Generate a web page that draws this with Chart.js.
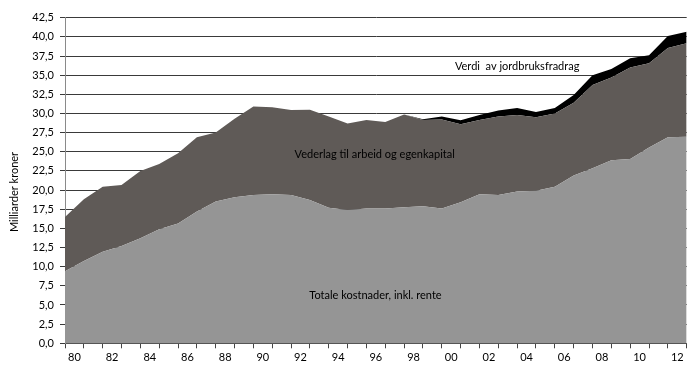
<!DOCTYPE html>
<html>
<head>
<meta charset="utf-8">
<script src="https://cdn.jsdelivr.net/npm/chart.js@4/dist/chart.umd.min.js"></script>
<style>
  html, body { margin: 0; padding: 0; background: #fff; }
  #wrap { width: 700px; height: 380px; position: relative; }
</style>
</head>
<body>
<div id="wrap"><canvas id="c" width="700" height="380"></canvas></div>
<script>
// Categories (years, points on the tick marks)
const years = ['1980','1981','1982','1983','1984','1985','1986','1987','1988','1989',
               '1990','1991','1992','1993','1994','1995','1996','1997','1998','1999',
               '2000','2001','2002','2003','2004','2005','2006','2007','2008','2009',
               '2010','2011','2012','2013'];
// Tick labels shown (every second year)
const tickLabels = ['80','82','84','86','88','90','92','94','96','98','00','02','04','06','08','10','12'];

// Series values (milliarder kroner, stacked)
const totaleKostnader = [9.4, 10.75, 11.95, 12.7, 13.7, 14.9, 15.65, 17.2, 18.5, 19.05,
                         19.35, 19.45, 19.35, 18.7, 17.7, 17.4, 17.6, 17.6, 17.75, 17.9,
                         17.6, 18.4, 19.45, 19.35, 19.8, 19.9, 20.45, 21.9, 22.85, 23.9,
                         24.05, 25.55, 26.9, 26.95];
const vederlag = [7.1, 8.05, 8.5, 7.95, 8.8, 8.5, 9.15, 9.7, 9.0, 10.25,
                  11.55, 11.35, 11.1, 11.8, 11.9, 11.3, 11.55, 11.3, 12.1, 11.25,
                  11.6, 10.2, 9.7, 10.25, 10.0, 9.6, 9.55, 9.5, 10.85, 10.8,
                  11.95, 11.0, 11.65, 12.2];
const jordbruksfradrag = [0, 0, 0, 0, 0, 0, 0, 0, 0, 0,
                          0, 0, 0, 0, 0, 0, 0, 0, 0, 0.1,
                          0.4, 0.5, 0.65, 0.8, 0.9, 0.7, 0.7, 1.0, 1.3, 1.1,
                          1.2, 1.05, 1.55, 1.5];
const seriesNames = ['Totale kostnader, inkl. rente', 'Vederlag til arbeid og egenkapital', 'Verdi  av jordbruksfradrag'];
const yTitle = 'Milliarder kroner';

const FONT = 'Lato, "Open Sans", sans-serif';

const annotations = {
  id: 'annotations',
  afterDatasetsDraw(chart) {
    const {ctx, scales: {x, y}} = chart;
    ctx.save();
    ctx.fillStyle = '#000';
    ctx.font = '11px ' + FONT;
    ctx.textAlign = 'center';
    ctx.textBaseline = 'middle';
    ctx.fillText(seriesNames[2], x.getPixelForValue(24.0), y.getPixelForValue(36.2));
    ctx.fillText(seriesNames[1], x.getPixelForValue(16.44), y.getPixelForValue(24.6));
    ctx.fillText(seriesNames[0], x.getPixelForValue(16.48), y.getPixelForValue(6.3));
    // y axis title
    ctx.translate(14, 192);
    ctx.rotate(-Math.PI / 2);
    ctx.fillText(yTitle, 0, 0);
    ctx.restore();
  }
};

const mk = (arr) => arr;

new Chart(document.getElementById('c'), {
  type: 'line',
  data: {
    labels: years,
    datasets: [
      { label: seriesNames[0], data: mk(totaleKostnader), backgroundColor: '#959595', borderWidth: 0, fill: 'origin', pointRadius: 0, tension: 0 },
      { label: seriesNames[1], data: mk(vederlag), backgroundColor: '#5f5a57', borderWidth: 0, fill: '-1', pointRadius: 0, tension: 0 },
      { label: seriesNames[2], data: mk(jordbruksfradrag), backgroundColor: '#000000', borderWidth: 0, fill: '-1', pointRadius: 0, tension: 0 }
    ]
  },
  options: {
    responsive: false,
    animation: false,
    events: [],
    layout: { padding: { left: 0, right: 13.3, top: 17.7, bottom: 0 } },
    plugins: { legend: { display: false }, tooltip: { enabled: false } },
    scales: {
      x: {
        type: 'category',
        offset: false,
        grid: { display: true, drawOnChartArea: false, drawTicks: true, tickLength: 5, color: '#444', lineWidth: 1 },
        border: { display: true, color: '#555', width: 1 },
        ticks: {
          autoSkip: false, maxRotation: 0, minRotation: 0,
          padding: 3, color: '#000', font: { family: FONT, size: 11 },
          labelOffset: 9.42,
          callback: (v, i) => (i % 2 === 0 && i / 2 < tickLabels.length) ? tickLabels[i / 2] : ''
        },
        afterFit: (s) => { s.height = 36.7; }
      },
      y: {
        stacked: true,
        min: 0, max: 42.5,
        grid: { color: '#3a3a3a', lineWidth: 1, tickLength: 5, drawTicks: true },
        border: { display: true, color: '#8a8a8a', width: 1 },
        ticks: {
          stepSize: 2.5, padding: 6, color: '#000', font: { family: FONT, size: 11 },
          callback: (v) => v.toFixed(1).replace('.', ',')
        },
        afterFit: (s) => { s.width = 65; }
      }
    }
  },
  plugins: [annotations]
});
</script>
</body>
</html>
